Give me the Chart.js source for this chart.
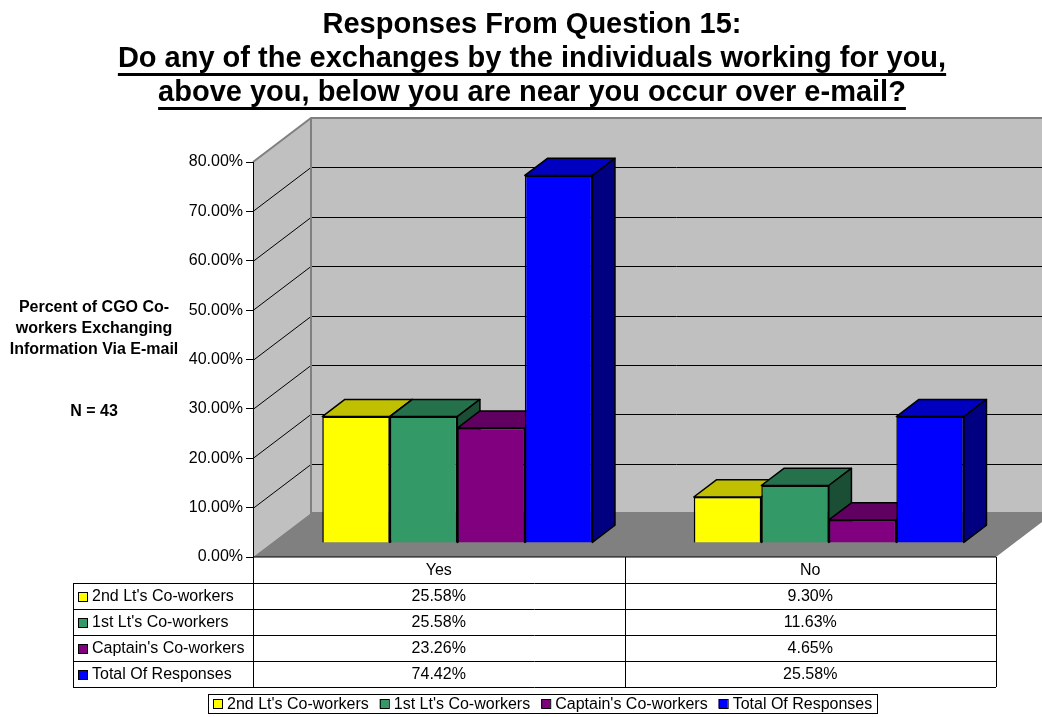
<!DOCTYPE html>
<html>
<head>
<meta charset="utf-8">
<script src="https://cdn.jsdelivr.net/npm/chart.js@4.4.0/dist/chart.umd.min.js"></script>
<style>
  html, body { margin: 0; padding: 0; background: #fff; }
  #wrap { width: 1042px; height: 717px; }
</style>
</head>
<body>
<div id="wrap"><canvas id="chart" width="1042" height="717"></canvas></div>
<script>
// Données du graphique
const categories = ['Yes', 'No'];
const seriesNames = ["2nd Lt's Co-workers", "1st Lt's Co-workers", "Captain's Co-workers", 'Total Of Responses'];
const secondLt = [25.58, 9.30];
const firstLt = [25.58, 11.63];
const captain = [23.26, 4.65];
const total = [74.42, 25.58];
const yTicks = [0, 10, 20, 30, 40, 50, 60, 70, 80];

const titleLines = [
  'Responses From Question 15:',
  'Do any of the exchanges by the individuals working for you,',
  'above you, below you are near you occur over e-mail?'
];
const yTitleLines = ['Percent of CGO Co-', 'workers Exchanging', 'Information Via E-mail'];
const nLabel = 'N = 43';

// Couleurs (face, dessus, côté)
const faceColors = ['#FFFF00', '#339966', '#800080', '#0000FF'];
const topColors = ['#C0C000', '#25714C', '#600060', '#0000C0'];
const sideColors = ['#808000', '#1B4F35', '#400040', '#000080'];

// Profondeur 3D
const DX = 58, DY = -44;
const BAR_Z0 = 0.32, BAR_Z = 0.39;

const FONT = '"Liberation Sans", Arial, sans-serif';
const TABLE_LEFT = 73;
const HEADER_H = 26;
const ROW_H = 26;

function fmt(v) { return v.toFixed(2) + '%'; }

// Murs, sol et quadrillage
const wallsPlugin = {
  id: 'walls',
  beforeDraw(chart) {
    const ctx = chart.ctx;
    const { left, right, top, bottom } = chart.chartArea;
    const y = chart.scales.y;
    const W = chart.width;
    ctx.save();
    ctx.fillStyle = '#fff';
    ctx.fillRect(0, 0, W, chart.height);

    // mur du fond
    ctx.fillStyle = '#C0C0C0';
    ctx.fillRect(left + DX, top + DY, W - left - DX, bottom - top);
    // mur de gauche
    ctx.beginPath();
    ctx.moveTo(left, bottom);
    ctx.lineTo(left, top);
    ctx.lineTo(left + DX, top + DY);
    ctx.lineTo(left + DX, bottom + DY);
    ctx.closePath();
    ctx.fill();
    // sol
    ctx.fillStyle = '#808080';
    ctx.beginPath();
    ctx.moveTo(left, bottom);
    ctx.lineTo(right, bottom);
    ctx.lineTo(right + DX, bottom + DY);
    ctx.lineTo(left + DX, bottom + DY);
    ctx.closePath();
    ctx.fill();

    // quadrillage
    ctx.lineWidth = 1;
    ctx.strokeStyle = '#000';
    yTicks.forEach(v => {
      if (v === yTicks[0] || v === yTicks[yTicks.length - 1]) return;
      const py = Math.round(y.getPixelForValue(v)) + 0.5;
      ctx.beginPath();
      ctx.moveTo(left, py);
      ctx.lineTo(left + DX, py + DY);
      ctx.lineTo(W, py + DY);
      ctx.stroke();
    });

    // arêtes grises
    ctx.strokeStyle = '#808080';
    ctx.lineWidth = 2;
    ctx.beginPath();
    ctx.moveTo(left, top);
    ctx.lineTo(left + DX, top + DY);
    ctx.lineTo(W, top + DY);
    ctx.moveTo(left + DX, top + DY);
    ctx.lineTo(left + DX, bottom + DY);
    ctx.lineTo(W, bottom + DY);
    ctx.stroke();
    ctx.restore();
  }
};

// Barres 3D : on redessine les jeux de données dans l'ordre, avec dessus et côté
const bars3dPlugin = {
  id: 'bars3d',
  beforeDatasetDraw() { return false; },
  afterDatasetsDraw(chart) {
    const ctx = chart.ctx;
    const bx = DX * BAR_Z, by = DY * BAR_Z;
    ctx.save();
    ctx.translate(DX * BAR_Z0, DY * BAR_Z0);
    ctx.lineWidth = 1.5;
    ctx.strokeStyle = '#000';
    ctx.lineJoin = 'round';
    chart.data.datasets.forEach((ds, i) => {
      const meta = chart.getDatasetMeta(i);
      meta.controller.draw();
      meta.data.forEach(bar => {
        const { x, y, base, width } = bar.getProps(['x', 'y', 'base', 'width'], true);
        const l = x - width / 2, r = x + width / 2;
        ctx.fillStyle = topColors[i];
        ctx.beginPath();
        ctx.moveTo(l, y);
        ctx.lineTo(l + bx, y + by);
        ctx.lineTo(r + bx, y + by);
        ctx.lineTo(r, y);
        ctx.closePath();
        ctx.fill();
        ctx.stroke();
        ctx.fillStyle = sideColors[i];
        ctx.beginPath();
        ctx.moveTo(r, y);
        ctx.lineTo(r + bx, y + by);
        ctx.lineTo(r + bx, base + by);
        ctx.lineTo(r, base);
        ctx.closePath();
        ctx.fill();
        ctx.stroke();
      });
    });
    ctx.restore();
  }
};

function legendKey(ctx, x, y, color) {
  ctx.fillStyle = color;
  ctx.fillRect(x, y, 9, 9);
  ctx.strokeStyle = '#000';
  ctx.lineWidth = 1;
  ctx.strokeRect(x + 0.5, y + 0.5, 9, 9);
}

// Titres, table de données et légende
const textPlugin = {
  id: 'texts',
  afterDraw(chart) {
    const ctx = chart.ctx;
    const { left, right, bottom } = chart.chartArea;
    const xs = chart.scales.x;
    const datasets = chart.data.datasets;
    ctx.save();

    // titre
    ctx.fillStyle = '#000';
    ctx.textAlign = 'center';
    ctx.textBaseline = 'alphabetic';
    ctx.font = 'bold 29px ' + FONT;
    const titleX = 532;
    const titleY = [33, 67, 101];
    titleLines.forEach((t, i) => {
      ctx.fillText(t, titleX, titleY[i]);
      if (i > 0) {
        const w = ctx.measureText(t).width;
        ctx.fillRect(titleX - w / 2, titleY[i] + 6, w, 3);
      }
    });

    // titre de l'axe
    ctx.textBaseline = 'middle';
    ctx.font = 'bold 16px ' + FONT;
    yTitleLines.forEach((t, i) => ctx.fillText(t, 94, 308 + i * 20.7));
    ctx.fillText(nLabel, 94, 412);

    // table de données
    const mid = (xs.getPixelForValue(0) + xs.getPixelForValue(1)) / 2;
    const colEdges = [left, mid, right];
    const tableBottom = bottom + HEADER_H + ROW_H * datasets.length;
    ctx.strokeStyle = '#000';
    ctx.lineWidth = 1;
    ctx.beginPath();
    ctx.moveTo(left, bottom); ctx.lineTo(right, bottom);
    colEdges.forEach(cx => {
      const px = Math.round(cx) + 0.5;
      ctx.moveTo(px, bottom); ctx.lineTo(px, tableBottom);
    });
    ctx.moveTo(TABLE_LEFT + 0.5, bottom + HEADER_H); ctx.lineTo(TABLE_LEFT + 0.5, tableBottom);
    for (let r = 0; r <= datasets.length; r++) {
      const py = Math.round(bottom + HEADER_H + r * ROW_H) + 0.5;
      ctx.moveTo(TABLE_LEFT, py); ctx.lineTo(right, py);
    }
    ctx.stroke();

    ctx.font = '16px ' + FONT;
    ctx.fillStyle = '#000';
    categories.forEach((c, j) => {
      const cx = (colEdges[j] + colEdges[j + 1]) / 2;
      ctx.fillText(c, cx, bottom + HEADER_H / 2 + 1);
      datasets.forEach((ds, i) => {
        ctx.fillText(fmt(ds.data[j]), cx, bottom + HEADER_H + i * ROW_H + ROW_H / 2 + 1);
      });
    });
    ctx.textAlign = 'left';
    datasets.forEach((ds, i) => {
      const ry = bottom + HEADER_H + i * ROW_H + ROW_H / 2;
      legendKey(ctx, TABLE_LEFT + 5, ry - 4, faceColors[i]);
      ctx.fillStyle = '#000';
      ctx.fillText(ds.label, TABLE_LEFT + 19, ry + 1);
    });

    // légende du bas
    const gap = 11;
    const widths = seriesNames.map(n => 14 + ctx.measureText(n).width);
    const inner = widths.reduce((a, b) => a + b, 0) + gap * (widths.length - 1);
    const boxW = Math.round(inner + 10), boxH = 19;
    const boxX = Math.round(542 - boxW / 2), boxY = 694;
    ctx.strokeStyle = '#000';
    ctx.strokeRect(boxX + 0.5, boxY + 0.5, boxW, boxH);
    let lx = boxX + 5;
    seriesNames.forEach((n, i) => {
      legendKey(ctx, lx, boxY + 5, faceColors[i]);
      ctx.fillStyle = '#000';
      ctx.fillText(n, lx + 14, boxY + boxH / 2 + 1);
      lx += widths[i] + gap;
    });
    ctx.restore();
  }
};

new Chart(document.getElementById('chart'), {
  type: 'bar',
  data: {
    labels: categories,
    datasets: [secondLt, firstLt, captain, total].map((d, i) => ({
      label: seriesNames[i],
      data: d,
      backgroundColor: faceColors[i],
      borderColor: '#000',
      borderWidth: 1.5,
      categoryPercentage: 0.727,
      barPercentage: 1.0
    }))
  },
  options: {
    responsive: false,
    animation: false,
    layout: { padding: { top: 162, bottom: 160, left: 0, right: 46 } },
    plugins: {
      legend: { display: false },
      title: { display: false },
      tooltip: { enabled: false }
    },
    scales: {
      x: { display: false },
      y: {
        min: yTicks[0],
        max: yTicks[yTicks.length - 1],
        afterFit(scale) { scale.width = 253; },
        afterBuildTicks(scale) { scale.ticks = yTicks.map(v => ({ value: v })); },
        ticks: {
          padding: 3,
          color: '#000',
          font: { family: FONT, size: 16 },
          callback: v => fmt(v)
        },
        grid: { drawOnChartArea: false, drawTicks: true, tickLength: 7, color: '#000' },
        border: { display: true, color: '#000', width: 1 }
      }
    }
  },
  plugins: [wallsPlugin, bars3dPlugin, textPlugin]
});
</script>
</body>
</html>
